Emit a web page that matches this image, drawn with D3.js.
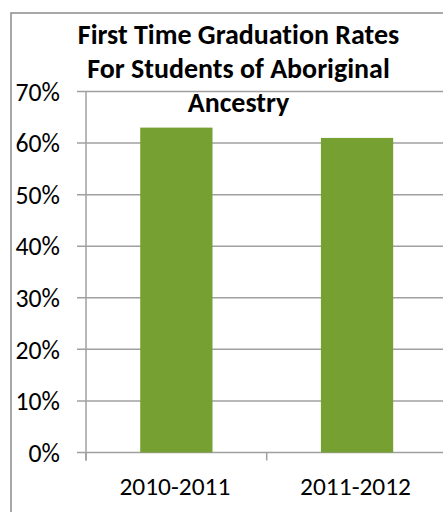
<!DOCTYPE html>
<html>
<head>
<meta charset="utf-8">
<script src="https://cdn.jsdelivr.net/npm/d3@7"></script>
<style>
  html, body { margin: 0; padding: 0; background: #fff; }
  svg { display: block; }
  text { font-family: Carlito, Calibri, Lato, "Open Sans", sans-serif; fill: #000; font-variant-ligatures: none; }
</style>
</head>
<body>
<svg id="chart" width="443" height="512"></svg>
<script>
const categories = ["2010-2011", "2011-2012"];
const values = [0.63, 0.61];
const yTicks = [0, 0.1, 0.2, 0.3, 0.4, 0.5, 0.6, 0.7];
const titleLines = ["First Time Graduation Rates", "For Students of Aboriginal", "Ancestry"];

const svg = d3.select("#chart");
const plot = { left: 86, right: 447.4, top: 91.5, bottom: 452.5 };

// size a text selection so that its first element reaches a target width
function fitSize(sel, target) {
  sel.style("font-size", "20px");
  const w = sel.node().getComputedTextLength();
  const s = 20 * target / w;
  sel.style("font-size", s + "px");
  return s;
}

// outer chart frame (top and left edges visible, rest clipped)
svg.append("rect")
  .attr("x", 11).attr("y", 13)
  .attr("width", 460).attr("height", 520)
  .attr("fill", "#fff")
  .attr("stroke", "#8c8c8c").attr("stroke-width", 1.5);

const x = d3.scaleBand().domain(categories)
  .range([plot.left, plot.right]).paddingInner(0.6).paddingOuter(0.3);
const xCat = d3.scaleBand().domain(categories).range([plot.left, plot.right]).padding(0);
const y = d3.scaleLinear().domain([0, 0.7]).range([plot.bottom, plot.top]);

// gridlines
svg.append("g").selectAll("line").data(yTicks).join("line")
  .attr("x1", plot.left - 9).attr("x2", plot.right)
  .attr("y1", d => y(d)).attr("y2", d => y(d))
  .attr("stroke", "#a0a0a0").attr("stroke-width", 1.5);

// y axis line
svg.append("line")
  .attr("x1", plot.left).attr("x2", plot.left)
  .attr("y1", plot.top).attr("y2", plot.bottom + 8)
  .attr("stroke", "#a0a0a0").attr("stroke-width", 1.5);

// x category tick marks
const bounds = categories.map(c => xCat(c)).concat([plot.right]);
svg.append("g").selectAll("line").data(bounds).join("line")
  .attr("x1", d => d).attr("x2", d => d)
  .attr("y1", plot.bottom).attr("y2", plot.bottom + 8)
  .attr("stroke", "#a0a0a0").attr("stroke-width", 1.5);

// bars
svg.append("g").selectAll("rect").data(values).join("rect")
  .attr("x", (d, i) => x(categories[i]))
  .attr("width", x.bandwidth())
  .attr("y", d => y(d))
  .attr("height", d => plot.bottom - y(d))
  .attr("fill", "#77a033");

// y labels
const yl = svg.append("g").selectAll("text").data(yTicks).join("text")
  .attr("x", 60).attr("y", d => y(d))
  .attr("dy", "0.36em")
  .attr("text-anchor", "end")
  .text(d => d3.format(".0%")(d));
const ys = fitSize(yl.filter(d => d === 0.3), 44.5);
yl.style("font-size", ys + "px");

// x labels
const xl = svg.append("g").selectAll("text").data(categories).join("text")
  .attr("x", d => xCat(d) + xCat.bandwidth() / 2 - 1.5)
  .attr("y", 495)
  .attr("text-anchor", "middle")
  .text(d => d);
const xs = fitSize(xl.filter((d, i) => i === 0), 111);
xl.style("font-size", xs + "px");

// title
const tl = svg.append("g").selectAll("text").data(titleLines).join("text")
  .attr("x", 238.5)
  .attr("y", (d, i) => [43.5, 77.5, 112][i])
  .attr("text-anchor", "middle")
  .style("font-weight", "bold")
  .text(d => d);
const ts = fitSize(tl.filter((d, i) => i === 0), 321.5);
tl.style("font-size", ts + "px");
</script>
</body>
</html>
